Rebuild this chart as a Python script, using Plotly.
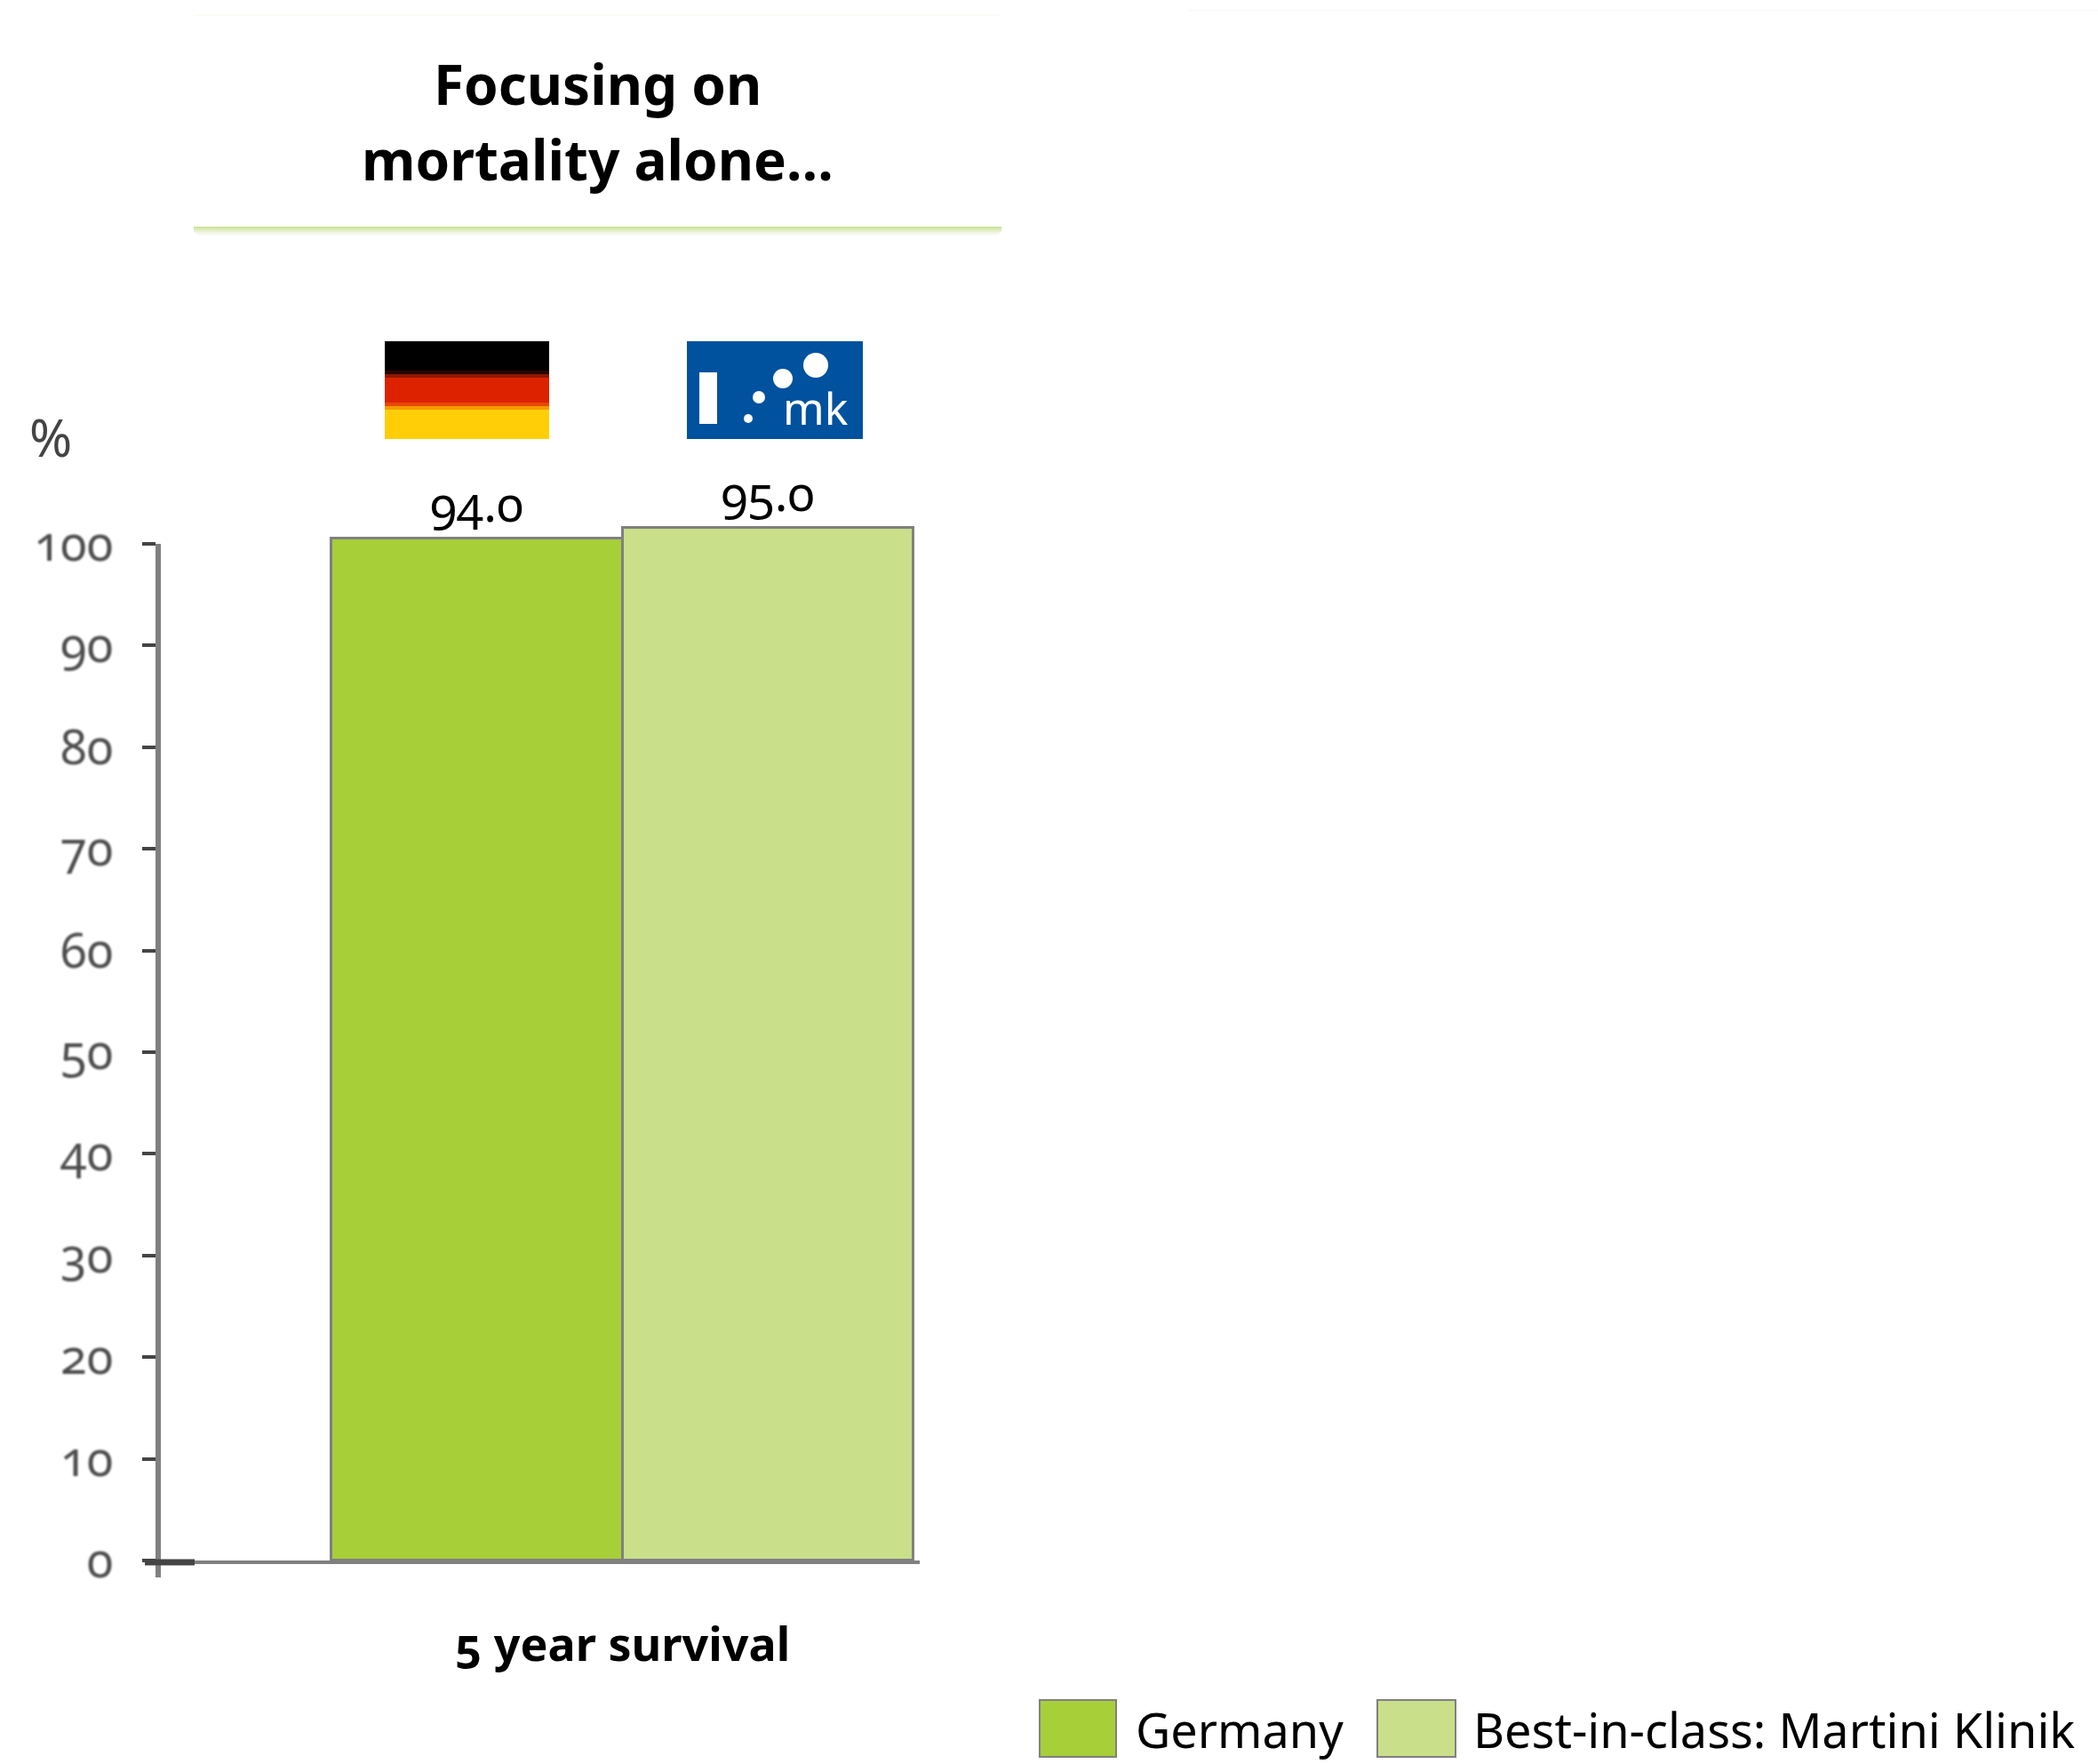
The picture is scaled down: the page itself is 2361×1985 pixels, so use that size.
import plotly.graph_objects as go

# Chart data
category = ["5 year survival"]
series_names = ["Germany", "Best-in-class: Martini Klinik"]
survival_germany = [94.0]
survival_best = [95.0]
axis_ticks = [0, 10, 20, 30, 40, 50, 60, 70, 80, 90, 100]

W, H = 2361, 1985
GREEN = "#a7cf38"
LIGHT = "#c9df8a"
EDGE = "#808080"
FONT = "Noto Sans"


def px(x):
    return x / W


def py(y):
    return 1 - y / H


def rect(x0, y0, x1, y1, fill, line=None, lw=0):
    return dict(type="rect", xref="paper", yref="paper",
                x0=px(x0), x1=px(x1), y0=py(y0), y1=py(y1),
                fillcolor=fill, line=dict(color=line or fill, width=lw), layer="above")


def circle(cx, cy, r, fill="#ffffff"):
    return dict(type="circle", xref="paper", yref="paper",
                x0=px(cx - r), x1=px(cx + r), y0=py(cy - r), y1=py(cy + r),
                fillcolor=fill, line=dict(width=0), layer="above")


def label(x, y, text, size, color="#000000", bold=False, anchor="center"):
    return dict(xref="paper", yref="paper", x=px(x), y=py(y), text=f"<b>{text}</b>" if bold else text,
                showarrow=False, xanchor=anchor, yanchor="middle",
                font=dict(family=FONT, size=size, color=color))


fig = go.Figure()
fig.add_bar(x=category, y=survival_germany, name=series_names[0], marker=dict(color=GREEN, line=dict(color=EDGE, width=3)),
            text=[f"{v:.1f}" for v in survival_germany], textposition="outside", cliponaxis=False,
            textfont=dict(family=FONT, size=55, color="#000000"))
fig.add_bar(x=category, y=survival_best, name=series_names[1], marker=dict(color=LIGHT, line=dict(color=EDGE, width=3)),
            text=[f"{v:.1f}" for v in survival_best], textposition="outside", cliponaxis=False,
            textfont=dict(family=FONT, size=55, color="#000000"))
# Carries the visible percentage scale on its own axis
fig.add_scatter(x=category * 2, y=[axis_ticks[0], axis_ticks[-1]], yaxis="y2", mode="lines",
                line=dict(color="rgba(0,0,0,0)"), hoverinfo="skip", showlegend=False)

shapes = []
# Title panel: faint outline and a soft green lower edge
shapes += [rect(218, 16, 1126, 18, "#fbfcf6")]
for i, c in enumerate(["#cfe49b", "#dcebb9", "#e8f1d2", "#f1f6e3", "#f8fbf2"]):
    inset = max(0, i - 2) * 2
    shapes.append(rect(218 + inset, 255 + i * 2, 1127 - inset, 257 + i * 2, c))
shapes += [rect(1337, 11, W, 13, "#fbfbf8")]
# German flag
for y0, y1, c in [(384, 417, "#000000"), (417, 421, "#2a0500"), (421, 425, "#8a1a00"), (425, 453, "#dd2200"),
                  (453, 457, "#e84800"), (457, 461, "#f59a00"), (461, 494, "#ffce07")]:
    shapes.append(rect(433, y0, 618, y1, c))
# Clinic logo
shapes += [rect(773, 384, 971, 494, "#00519e"), rect(787, 419, 807, 477, "#ffffff"),
           circle(918, 411, 14), circle(881, 426, 11), circle(854, 447, 7), circle(842, 471, 5)]
# Heavy zero tick
shapes.append(dict(type="line", xref="paper", yref="paper", x0=px(163), x1=px(219), y0=py(1758), y1=py(1758),
                   line=dict(color="#444444", width=7), layer="above"))
# Legend swatches
shapes += [rect(1170, 1913, 1256, 1977, GREEN, EDGE, 2), rect(1550, 1913, 1638, 1977, LIGHT, EDGE, 2)]

annotations = [
    label(672, 94, "Focusing on", 62, bold=True),
    label(672, 179, "mortality alone…", 62, bold=True),
    label(57, 491, "%", 58, "#444444"),
    label(918, 459, "mk", 50, "#ffffff"),
    label(1276, 1946, series_names[0], 54, anchor="left"),
    label(1656, 1946, series_names[1], 54, anchor="left"),
]

fig.update_layout(
    width=W, height=H, margin=dict(l=0, r=0, t=0, b=0, autoexpand=False), autosize=False,
    paper_bgcolor="#ffffff", plot_bgcolor="rgba(0,0,0,0)",
    barmode="group", bargap=0, bargroupgap=0, showlegend=False,
    font=dict(family=FONT), shapes=shapes, annotations=annotations,
    xaxis=dict(domain=[px(178), px(1035)], range=[-0.797, 0.510], type="category",
               anchor="y", showline=True, linecolor=EDGE, linewidth=4, ticks="", showgrid=False, zeroline=False,
               ticklabelstandoff=47, tickfont=dict(family=FONT, size=52, color="#000000", weight="bold")),
    yaxis=dict(domain=[py(1756), py(533)], range=[0, 100], visible=False, showgrid=False, zeroline=False),
    yaxis2=dict(domain=[py(1775), py(612)], range=[-1.66, 100], anchor="free", position=px(178), side="left",
                tickmode="array", tickvals=axis_ticks, ticktext=[str(t) for t in axis_ticks],
                ticks="outside", ticklen=15, tickwidth=4, tickcolor="#444444",
                showline=True, linecolor=EDGE, linewidth=6, showgrid=False, zeroline=False,
                ticklabelstandoff=22, tickfont=dict(family=FONT, size=54, color="#4d4d4d")),
)

# Old-style figures throughout; the scale labels are set slightly soft
fig.write_html("out.html", post_script="""
var s = document.createElement('style');
s.textContent = 'svg text { font-feature-settings: "onum" 1; } .y2tick text { filter: blur(0.8px); }';
document.head.appendChild(s);
""")
